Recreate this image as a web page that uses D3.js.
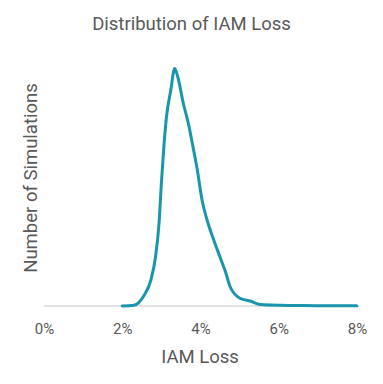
<!DOCTYPE html>
<html>
<head>
<meta charset="utf-8">
<script src="https://cdn.jsdelivr.net/npm/d3@7"></script>
<style>
  body { margin: 0; background: #fff; }
  text { font-family: Roboto, "Noto Sans", sans-serif; fill: #595959; }
</style>
</head>
<body>
<div id="chart"></div>
<script>
// IAM loss (%) and relative number of simulations
const lossPct = [2.0, 2.3, 2.56, 2.73, 2.85, 2.94, 3.0, 3.07, 3.13, 3.24, 3.34, 3.42, 3.56, 3.70, 3.79, 3.92, 4.04, 4.17, 4.34, 4.51, 4.64, 4.76, 5.02, 5.27, 5.53, 6.04, 6.5, 7.0, 7.5, 8.0];
const simCount = [0, 3, 43, 103, 196, 331, 491, 651, 756, 863, 950, 916, 811, 723, 651, 543, 423, 343, 263, 191, 136, 76, 30, 20, 6, 3, 2, 1, 1, 0.5];
const xTicks = [0, 2, 4, 6, 8];

const width = 383;
const height = 384;
const margin = { top: 56, right: 25, bottom: 78, left: 44 };

const svg = d3.select("#chart")
  .append("svg")
  .attr("width", width)
  .attr("height", height);

const x = d3.scaleLinear()
  .domain([0, 8])
  .range([margin.left, width - margin.right - 1]);

const y = d3.scaleLinear()
  .domain([0, 1000])
  .range([height - margin.bottom, margin.top]);

// baseline
svg.append("line")
  .attr("x1", x(0))
  .attr("x2", x(8))
  .attr("y1", y(0))
  .attr("y2", y(0))
  .attr("stroke", "#c8c8c8")
  .attr("stroke-width", 1);

// x axis labels
const xAxis = svg.append("g")
  .attr("transform", `translate(0,${y(0)})`)
  .call(d3.axisBottom(x).tickValues(xTicks).tickSize(0).tickPadding(17).tickFormat(d => d + "%"));
xAxis.select(".domain").remove();
xAxis.selectAll("text")
  .style("font-size", "15px")
  .attr("fill", "#595959");

const data = lossPct.map((d, i) => ({ loss: d, count: simCount[i] }));

const line = d3.line()
  .x(d => x(d.loss))
  .y(d => y(d.count))
  .curve(d3.curveMonotoneX);

svg.append("path")
  .datum(data)
  .attr("fill", "none")
  .attr("stroke", "#1a95ae")
  .attr("stroke-width", 3)
  .attr("stroke-linejoin", "round")
  .attr("stroke-linecap", "round")
  .attr("d", line);

// titles
svg.append("text")
  .attr("x", 191.5)
  .attr("y", 30)
  .attr("text-anchor", "middle")
  .style("font-size", "18.5px")
  .text("Distribution of IAM Loss");

svg.append("text")
  .attr("x", 200)
  .attr("y", 362.5)
  .attr("text-anchor", "middle")
  .style("font-size", "18.5px")
  .text("IAM Loss");

svg.append("text")
  .attr("transform", "translate(37,178) rotate(-90)")
  .attr("text-anchor", "middle")
  .style("font-size", "18.5px")
  .text("Number of Simulations");
</script>
</body>
</html>
